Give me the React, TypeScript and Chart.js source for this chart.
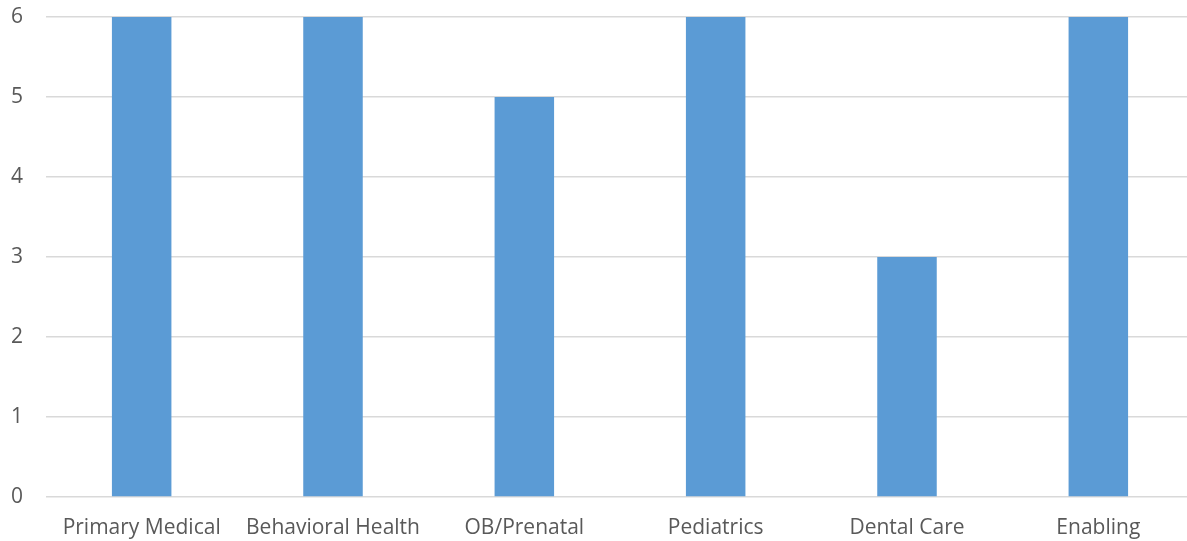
import React, { useEffect, useRef } from "react";
import { Chart, registerables } from "chart.js";

Chart.register(...registerables);

const categories = ["Primary Medical", "Behavioral Health", "OB/Prenatal", "Pediatrics", "Dental Care", "Enabling"];
const values = [6, 6, 5, 6, 3, 6];
const yTicks = [0, 1, 2, 3, 4, 5, 6];

export default function App() {
  const ref = useRef<HTMLCanvasElement | null>(null);
  useEffect(() => {
    document.body.style.margin = "0";
    document.body.style.overflow = "hidden";
    const chart = new Chart(ref.current!, {
      type: "bar",
      data: {
        labels: categories,
        datasets: [
          {
            data: values,
            backgroundColor: "#5B9BD5",
            borderWidth: 0,
            categoryPercentage: 1,
            barPercentage: 0.311,
          },
        ],
      },
      options: {
        animation: false,
        responsive: false,
        maintainAspectRatio: false,
        layout: { padding: { top: 17, left: 0, right: 0, bottom: 0 } },
        plugins: { legend: { display: false }, tooltip: { enabled: false } },
        scales: {
          x: {
            grid: { display: false },
            border: { display: false },
            ticks: {
              color: "#595959",
              font: { family: "Open Sans", size: 21 },
              padding: 10,
              maxRotation: 0,
              autoSkip: false,
            },
            afterFit: (s: any) => {
              s.height = 44;
              s.paddingLeft = 0;
              s.paddingRight = 0;
            },
          },
          y: {
            min: 0,
            max: 6,
            afterBuildTicks: (s: any) => {
              s.ticks = yTicks.map((v) => ({ value: v }));
            },
            grid: { color: "#d9d9d9", lineWidth: 1.5, drawTicks: false },
            border: { display: false },
            ticks: {
              color: "#595959",
              font: { family: "Open Sans", size: 21 },
              padding: 23,
            },
            afterFit: (s: any) => {
              s.width = 46;
              s.paddingTop = 0;
              s.paddingBottom = 0;
            },
          },
        },
      },
    });
    return () => chart.destroy();
  }, []);
  return (
    <div style={{ position: "fixed", left: 0, top: 0, width: 1187, height: 541, overflow: "hidden", background: "#fff" }}>
      <canvas ref={ref} width={1194} height={541} style={{ display: "block" }} />
    </div>
  );
}
